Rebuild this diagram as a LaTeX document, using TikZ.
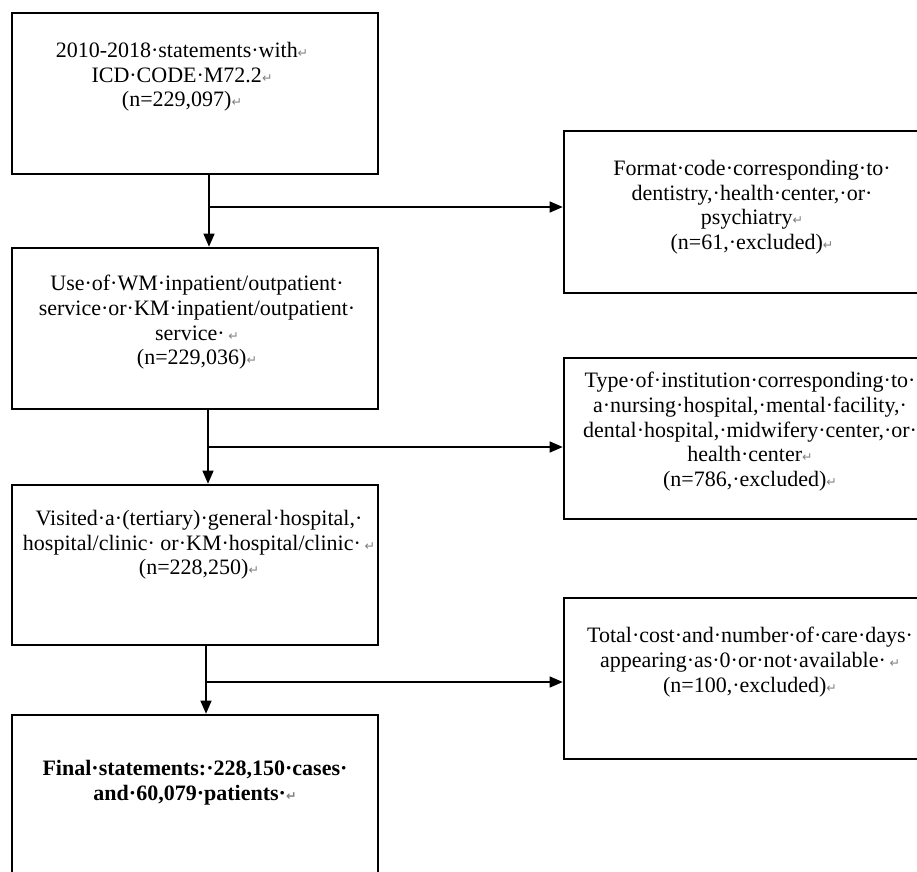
\documentclass[tikz,border=0pt]{standalone}
\usepackage{fontspec}
\setmainfont{Liberation Serif}
\newfontfamily\markfont{DejaVu Sans}
\usetikzlibrary{arrows.meta}
\newcommand{\pmark}{{\markfont\fontsize{12.5}{12.5}\selectfont\color{gray}↵}}
\tikzset{
  flowbox/.style={draw,line width=2.6pt,minimum width=366pt,inner sep=0pt},
  txt/.style={anchor=north,align=center,inner sep=0pt,font=\fontsize{22}{24.7}\selectfont}
}

\begin{document}
\begin{tikzpicture}[x=1pt,y=-1pt,>={Triangle[length=13pt,width=11pt]}]
                \clip (0,0) rectangle (917,871);
                \node[flowbox,minimum height=161pt] (b1) at (195,93.5) {};
                \node[flowbox,minimum height=161pt] (b2) at (195,328.5) {};
                \node[flowbox,minimum height=160pt] (b3) at (195,565) {};
                \node[flowbox,minimum height=180pt] (b4) at (195,805) {};
                \node[flowbox,minimum height=162pt] (e1) at (747,212) {};
                \node[flowbox,minimum height=161pt] (e2) at (747,438.5) {};
                \node[flowbox,minimum height=161pt] (e3) at (747,678.5) {};
                \node[txt] (t1) at (182,42) {2010-2018·statements·with\pmark\\ICD·CODE·M72.2\pmark\\(n=229,097)\pmark};
                \node[txt] (t2) at (197,275) {Use·of·WM·inpatient/outpatient·\\service·or·KM·inpatient/outpatient·\\service·\,\pmark\\(n=229,036)\pmark};
                \node[txt] (t3) at (199,510) {Visited·a·(tertiary)·general·hospital,·\\hospital/clinic· or·KM·hospital/clinic·\,\pmark\\(n=228,250)\pmark};
                \node[txt,font=\fontsize{22}{24.7}\selectfont\bfseries] (t4) at (195,760) {Final·statements:·228,150·cases·\\and·60,079·patients·\pmark};
                \node[txt] (u1) at (752,160) {Format·code·corresponding·to·\\dentistry,·health·center,·or·\\psychiatry\pmark\\(n=61,·excluded)\pmark};
                \node[txt] (u2) at (750,372) {Type·of·institution·corresponding·to·\\a·nursing·hospital,·mental·facility,·\\dental·hospital,·midwifery·center,·or·\\health·center\pmark\\(n=786,·excluded)\pmark};
                \node[txt] (u3) at (750,627) {Total·cost·and·number·of·care·days·\\appearing·as·0·or·not·available·\,\pmark\\(n=100,·excluded)\pmark};
                \coordinate (j1) at (209,207);
                \coordinate (j2) at (208,447);
                \coordinate (j3) at (206,682);
                \draw[line width=1.3pt,->] (b1.south -| j1) -- (b2.north -| j1);
                \draw[line width=1.3pt,->] (b2.south -| j2) -- (b3.north -| j2);
                \draw[line width=1.3pt,->] (b3.south -| j3) -- (b4.north -| j3);
                \draw[line width=1.3pt,->] (j1) -- (j1 -| e1.west);
                \draw[line width=1.3pt,->] (j2) -- (j2 -| e2.west);
                \draw[line width=1.3pt,->] (j3) -- (j3 -| e3.west);
            \end{tikzpicture}
\end{document}
